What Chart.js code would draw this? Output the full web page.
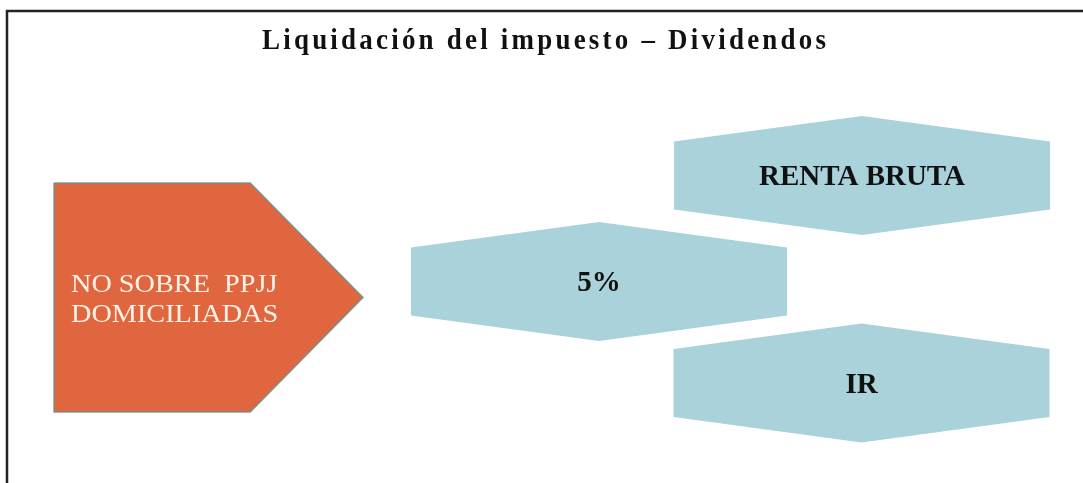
<!DOCTYPE html>
<html>
<head>
<meta charset="utf-8">
<script src="https://cdn.jsdelivr.net/npm/chart.js@4"></script>
<style>
  html, body { margin: 0; padding: 0; background: #ffffff; }
  #wrap { width: 1083px; height: 483px; }
</style>
</head>
<body>
<div id="wrap"><canvas id="diagrama" width="1083" height="483"></canvas></div>
<script>
// Datos del diagrama
const titulo = 'Liquidación del impuesto – Dividendos';
const etiquetas = [['NO SOBRE  PPJJ', 'DOMICILIADAS'], ['RENTA BRUTA'], ['5%'], ['IR']];
const formas = ['flecha', 'hexagono', 'hexagono', 'hexagono'];
const centroX = [208.5, 862, 599, 861.5];
const centroY = [297.5, 175.5, 281.5, 383];

// Estilos de las formas
const estilos = {
    flecha: { medioAncho: 154.5, medioAlto: 114.5, color: '#E0663F', borde: 'rgba(105,145,138,0.85)', bordeAncho: 1.5 },
    hexagono: { medioAncho: 188, medioAlto: 59.5, color: '#A9D2DA', borde: '#A9D2DA', bordeAncho: 0 }
};

// Vértices normalizados de cada forma (-1..1)
function plantilla(tipo) {
    if (tipo === 'flecha') {
        return [[-1, -1], [0.27, -1], [1, 0], [0.27, 1], [-1, 1], [-1, -1]];
    }
    return [[-1, -0.57], [0, -1], [1, -0.57], [1, 0.57], [0, 1], [-1, 0.57], [-1, -0.57]];
}

const datasets = formas.map(function(tipo, i) {
    const e = estilos[tipo];
    return {
        label: etiquetas[i].join(' '),
        data: plantilla(tipo).map(p => ({ x: centroX[i] + p[0] * e.medioAncho, y: centroY[i] + p[1] * e.medioAlto })),
        showLine: true,
        fill: 'shape',
        backgroundColor: e.color,
        borderColor: e.borde,
        borderWidth: e.bordeAncho,
        pointRadius: 0,
        tension: 0
    };
});

// Marco y título
const marcoPlugin = {
    id: 'marco',
    beforeDraw(chart) {
        const ctx = chart.ctx;
        ctx.save();
        ctx.fillStyle = '#ffffff';
        ctx.fillRect(0, 0, chart.width, chart.height);
        ctx.strokeStyle = '#222222';
        ctx.lineWidth = 2.5;
        ctx.beginPath();
        ctx.moveTo(7, chart.height + 5);
        ctx.lineTo(7, 11);
        ctx.lineTo(chart.width + 5, 11);
        ctx.stroke();

        // título: letras algo estrechas y con espaciado
        const compresion = 0.93;
        ctx.font = 'bold 29px "Liberation Serif", "Times New Roman", serif';
        ctx.fillStyle = '#111111';
        ctx.textBaseline = 'alphabetic';
        ctx.textAlign = 'left';
        const natural = ctx.measureText(titulo).width * compresion;
        const espacio = (564 - natural) / (titulo.length - 1) / compresion;
        ctx.letterSpacing = espacio.toFixed(2) + 'px';
        ctx.translate(262, 49);
        ctx.scale(compresion, 1);
        ctx.fillText(titulo, 0, 0);
        ctx.restore();
    }
};

// Textos dentro de las formas
const textosPlugin = {
    id: 'textos',
    afterDatasetsDraw(chart) {
        const ctx = chart.ctx;
        const sx = chart.scales.x;
        const sy = chart.scales.y;
        ctx.save();
        etiquetas.forEach(function(lineas, i) {
            const px = sx.getPixelForValue(centroX[i]);
            const py = sy.getPixelForValue(centroY[i]);
            if (formas[i] === 'flecha') {
                const izq = sx.getPixelForValue(centroX[i] - estilos.flecha.medioAncho) + 17;
                ctx.font = '25px "Liberation Serif", "Times New Roman", serif';
                ctx.fillStyle = '#FFF3E8';
                ctx.textAlign = 'left';
                ctx.textBaseline = 'alphabetic';
                lineas.forEach(function(linea, j) {
                    ctx.save();
                    ctx.translate(izq, py - 5.5 + j * 30);
                    ctx.scale(1.13, 1);
                    ctx.fillText(linea, 0, 0);
                    ctx.restore();
                });
            } else {
                ctx.font = 'bold 29px "Liberation Serif", "Times New Roman", serif';
                ctx.fillStyle = '#111111';
                ctx.textAlign = 'center';
                ctx.textBaseline = 'alphabetic';
                ctx.fillText(lineas[0], px, py + 9.5);
            }
        });
        ctx.restore();
    }
};

new Chart(document.getElementById('diagrama').getContext('2d'), {
    type: 'scatter',
    data: { datasets: datasets },
    options: {
        responsive: false,
        animation: false,
        layout: { padding: 0 },
        scales: {
            x: { type: 'linear', min: 0, max: 1083, display: false },
            y: { type: 'linear', min: 0, max: 483, reverse: true, display: false }
        },
        plugins: {
            legend: { display: false },
            tooltip: { enabled: false }
        }
    },
    plugins: [marcoPlugin, textosPlugin]
});
</script>
</body>
</html>
